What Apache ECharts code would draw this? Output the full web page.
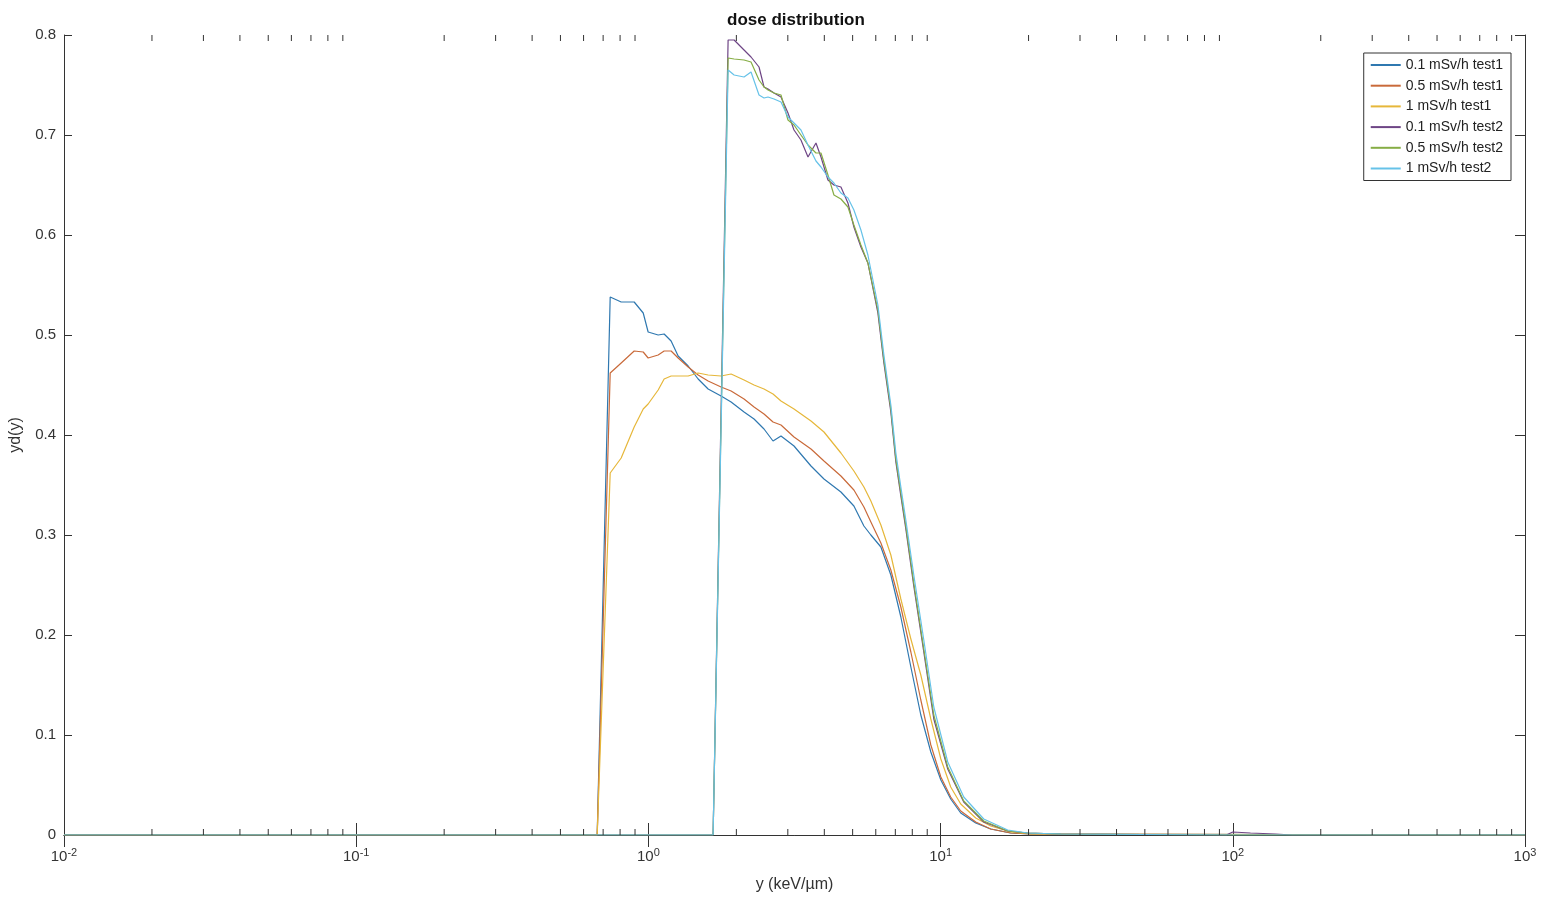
<!DOCTYPE html>
<html>
<head>
<meta charset="utf-8">
<script src="https://cdn.jsdelivr.net/npm/echarts@6/dist/echarts.min.js"></script>
<style>
html,body{margin:0;padding:0;background:#fff;}
#chart{width:1544px;height:898px;}
</style>
</head>
<body>
<div id="chart"></div>
<script>
// ---- data ----
const seriesNames = ['0.1 mSv/h test1','0.5 mSv/h test1','1 mSv/h test1','0.1 mSv/h test2','0.5 mSv/h test2','1 mSv/h test2'];
const xTickExponents = [-2,-1,0,1,2,3];
const yTickLabels = ['0','0.1','0.2','0.3','0.4','0.5','0.6','0.7','0.8'];

// lineal energy y (keV/µm), test1 sampling
const xTest1 = [0.01,0.668,0.740,0.807,0.894,0.960,0.998,1.080,1.132,1.196,1.264,1.368,1.480,1.601,1.773,1.919,2.125,2.299,2.487,2.670,
  2.843,3.150,3.601,3.989,4.559,5.050,5.464,5.773,6.247,6.757,7.311,7.911,8.557,9.259,10.02,10.83,11.72,13.19,14.84,17.37,20.33,1000];
const yd01Test1 = [0,0,0.538,0.533,0.533,0.522,0.503,0.500,0.501,0.494,0.479,0.469,0.456,0.446,0.439,0.433,0.423,0.416,0.406,0.394,
  0.399,0.389,0.369,0.356,0.343,0.329,0.309,0.300,0.288,0.260,0.218,0.168,0.120,0.083,0.055,0.036,0.022,0.012,0.006,0.002,0.001,0];
const yd05Test1 = [0,0,0.462,0.472,0.484,0.483,0.477,0.480,0.484,0.484,0.477,0.468,0.460,0.454,0.448,0.444,0.436,0.428,0.421,0.413,
  0.410,0.398,0.386,0.374,0.359,0.345,0.328,0.313,0.292,0.265,0.228,0.183,0.135,0.090,0.058,0.038,0.024,0.013,0.006,0.002,0.001,0];
const yd1Test1 = [0,0,0.362,0.377,0.408,0.426,0.431,0.445,0.456,0.459,0.459,0.459,0.462,0.460,0.459,0.461,0.455,0.450,0.446,0.441,
  0.434,0.426,0.414,0.403,0.382,0.364,0.348,0.334,0.310,0.280,0.236,0.196,0.160,0.116,0.076,0.048,0.031,0.017,0.009,0.003,0.001,0];

// test2 sampling
const xTest2 = [0.01,1.665,1.874,1.965,2.125,2.245,2.391,2.487,2.567,2.691,2.843,3.004,
  3.150,3.327,3.517,3.745,3.896,4.116,4.315,4.559,4.818,5.050,
  5.337,5.639,6.101,6.396,6.757,7.029,7.311,7.603,8.095,8.760,
  9.478,10.58,12.00,14.05,16.97,19.86,25.75,
  95,100,115,140,160,1000];
const yd01Test2 = [0,0,0.795,0.795,0.785,0.778,0.768,0.748,0.746,0.742,0.738,0.722,
  0.705,0.695,0.678,0.692,0.678,0.655,0.650,0.648,0.632,0.608,
  0.588,0.572,0.522,0.472,0.423,0.373,0.339,0.306,0.249,0.183,
  0.116,0.066,0.033,0.013,0.004,0.002,0.001,
  0,0.003,0.002,0.001,0,0];
const yd05Test2 = [0,0,0.777,0.776,0.775,0.773,0.755,0.748,0.745,0.742,0.740,0.715,
  0.710,0.700,0.690,0.682,0.682,0.660,0.640,0.636,0.628,0.610,
  0.590,0.572,0.525,0.475,0.426,0.376,0.342,0.309,0.252,0.186,
  0.120,0.068,0.034,0.014,0.004,0.002,0.001,
  0,0,0,0,0,0];
const yd1Test2 = [0,0,0.765,0.760,0.758,0.763,0.740,0.737,0.738,0.736,0.733,0.718,
  0.712,0.705,0.690,0.674,0.668,0.658,0.652,0.642,0.637,0.625,
  0.605,0.580,0.530,0.480,0.430,0.382,0.348,0.315,0.260,0.195,
  0.128,0.073,0.038,0.016,0.005,0.002,0.001,
  0,0,0,0,0,0];

// ---- chart ----
const colors = ['#2f78b0','#c96a3a','#e6b73a','#6e4585','#86ad45','#66c2e8'];
const pair = (xs, ys) => xs.map((x, i) => [x, ys[i]]);
const seriesData = [
  pair(xTest1, yd01Test1), pair(xTest1, yd05Test1), pair(xTest1, yd1Test1),
  pair(xTest2, yd01Test2), pair(xTest2, yd05Test2), pair(xTest2, yd1Test2)
];

// minor tick positions for log axis (2..9 × 10^k)
const minorTicks = [];
for (let e = xTickExponents[0]; e < xTickExponents[xTickExponents.length - 1]; e++) {
  for (let k = 2; k <= 9; k++) minorTicks.push([k * Math.pow(10, e), 0]);
}

const axisColor = '#333';
const labelColor = '#333';
const font = 'Liberation Sans, Arial, sans-serif';

const chart = echarts.init(document.getElementById('chart'), null, {renderer: 'canvas'});

const lineSeries = seriesNames.map((name, i) => ({
  type: 'line',
  name: name,
  data: seriesData[i],
  symbol: 'none',
  showSymbol: false,
  xAxisIndex: 0,
  yAxisIndex: 0,
  lineStyle: {width: 1.2, color: colors[i]},
  itemStyle: {color: colors[i]},
  z: 3 + i
}));

const option = {
  animation: false,
  backgroundColor: '#fff',
  title: {
    text: 'dose distribution',
    left: 722,
    top: 7,
    textStyle: {fontFamily: font, fontSize: 17, fontWeight: 'bold', color: '#111'}
  },
  grid: {left: 62, right: 19, top: 35, bottom: 62, containLabel: false},
  legend: {
    data: seriesNames,
    orient: 'vertical',
    right: 33,
    top: 53,
    itemWidth: 30,
    itemHeight: 14,
    itemGap: 6.7,
    padding: [5, 8, 5, 6],
    borderColor: '#333',
    borderWidth: 1,
    backgroundColor: '#fff',
    itemStyle: {opacity: 0},
    textStyle: {fontFamily: font, fontSize: 14, color: '#222', lineHeight: 14}
  },
  xAxis: [{
    type: 'log',
    logBase: 10,
    min: 0.01,
    max: 1000,
    position: 'bottom',
    name: 'y (keV/µm)',
    nameLocation: 'middle',
    nameGap: 42,
    nameTextStyle: {fontFamily: font, fontSize: 16, color: labelColor},
    axisLine: {show: true, lineStyle: {color: axisColor, width: 1}},
    axisTick: {show: true, inside: true, length: 12, lineStyle: {color: axisColor}},
    splitLine: {show: false},
    axisLabel: {
      margin: 12,
      formatter: v => {
        const e = Math.round(Math.log10(v));
        return xTickExponents.indexOf(e) >= 0 ? '{b|10}{s|' + e + '}' : '';
      },
      rich: {
        b: {fontFamily: font, fontSize: 15, color: labelColor},
        s: {fontFamily: font, fontSize: 11, color: labelColor, padding: [0, 0, 9, 0]}
      }
    }
  }, {
    type: 'log',
    logBase: 10,
    min: 0.01,
    max: 1000,
    position: 'top',
    axisLine: {show: true, lineStyle: {color: axisColor, width: 1}},
    axisTick: {show: true, inside: true, length: 12, lineStyle: {color: axisColor}},
    axisLabel: {show: false},
    splitLine: {show: false}
  }],
  yAxis: [{
    type: 'value',
    min: 0,
    max: 0.8,
    interval: 0.1,
    name: 'yd(y)',
    nameLocation: 'middle',
    nameGap: 40,
    nameTextStyle: {fontFamily: font, fontSize: 16, color: labelColor},
    axisLine: {show: true, lineStyle: {color: axisColor, width: 1}},
    axisTick: {show: true, inside: true, length: 8, lineStyle: {color: axisColor}},
    splitLine: {show: false},
    axisLabel: {
      margin: 8,
      fontFamily: font,
      fontSize: 15,
      color: labelColor,
      formatter: v => yTickLabels[Math.round(v * 10)]
    }
  }, {
    type: 'value',
    min: 0,
    max: 0.8,
    interval: 0.1,
    position: 'right',
    axisLine: {show: true, lineStyle: {color: axisColor, width: 1}},
    axisTick: {show: true, inside: true, length: 10, lineStyle: {color: axisColor}},
    axisLabel: {show: false},
    splitLine: {show: false}
  }],
  series: lineSeries.concat([{
    type: 'custom',
    name: 'minorTicks',
    xAxisIndex: 0,
    yAxisIndex: 0,
    silent: true,
    clip: false,
    z: 20,
    data: minorTicks,
    renderItem: (params, api) => {
      const v = api.value(0);
      const pb = api.coord([v, 0]);
      const pt = api.coord([v, 0.8]);
      return {
        type: 'group',
        children: [
          {type: 'line', shape: {x1: pb[0], y1: pb[1], x2: pb[0], y2: pb[1] - 6}, style: {stroke: axisColor, lineWidth: 1}},
          {type: 'line', shape: {x1: pt[0], y1: pt[1], x2: pt[0], y2: pt[1] + 6}, style: {stroke: axisColor, lineWidth: 1}}
        ]
      };
    }
  }])
};
chart.setOption(option);
</script>
</body>
</html>
